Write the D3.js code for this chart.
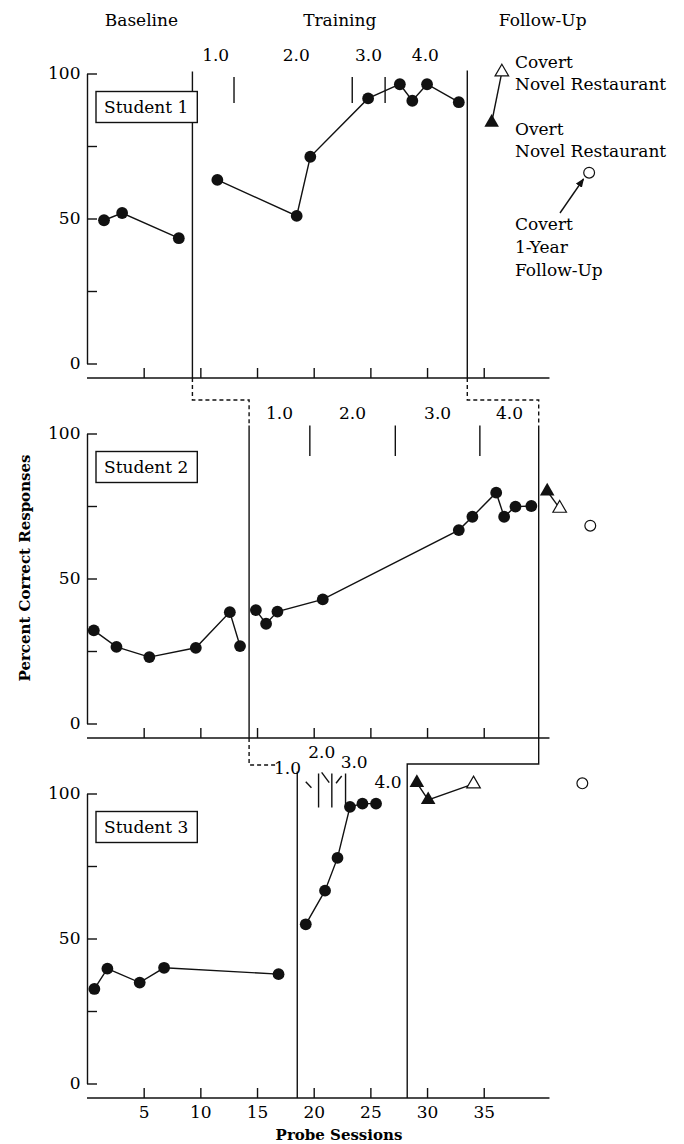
<!DOCTYPE html>
<html><head><meta charset="utf-8">
<script src="https://cdn.jsdelivr.net/npm/d3@7"></script>
<style>
body{margin:0;background:#fff}
svg text{font-family:"DejaVu Serif",serif;fill:#000}
</style></head>
<body><svg id="c" width="684" height="1144"></svg>
<script>
// Probe-session results (percent correct) for each student
const s1Sessions = [1.5, 3.1, 8.1, 11.5, 18.5, 19.7, 24.8, 27.6, 28.7, 30.0, 32.8];
const s1Percent  = [49.4, 51.9, 43.2, 63.3, 50.9, 71.3, 91.4, 96.3, 90.6, 96.3, 90.1];
const s2Sessions = [0.6, 2.6, 5.5, 9.6, 12.6, 13.5, 14.9, 15.8, 16.8, 20.8, 32.8, 34.0, 36.1, 36.8, 37.8, 39.2];
const s2Percent  = [32.1, 26.4, 22.9, 26.1, 38.4, 26.7, 39.1, 34.4, 38.6, 42.8, 66.7, 71.3, 79.6, 71.3, 74.8, 75.0];
const s3Sessions = [0.65, 1.8, 4.65, 6.8, 16.9, 19.3, 21.0, 22.1, 23.2, 24.3, 25.5];
const s3Percent  = [32.6, 39.6, 34.8, 39.9, 37.7, 54.9, 66.5, 77.8, 95.4, 96.5, 96.5];

// Follow-up probes
const overtSessions  = [[35.7], [40.6], [29.1, 30.1]];
const overtPercent   = [[83.1], [80.1], [103.7, 97.8]];
const covertSessions = [[36.6], [41.7], [34.1]];
const covertPercent  = [[100.5], [74.2], [103.3]];
const yearSessions   = [44.3, 44.4, 43.7];
const yearPercent    = [65.8, 68.2, 103.5];

// Phase changes (baseline -> training, training -> follow-up) and criterion steps
const phaseChanges   = [[9.3, 33.55], [14.3, 39.85], [18.55, 28.25]];
const criterionMarks = [[12.97, 23.4, 26.3], [19.66, 27.2, 34.66], [20.43, 21.6, 22.81]];
const criterionLabels = ["1.0", "2.0", "3.0", "4.0"];
const studentNames = ["Student 1", "Student 2", "Student 3"];
const phaseNames = ["Baseline", "Training", "Follow-Up"];
const xTicks = [5, 10, 15, 20, 25, 30, 35];
const yTicks = [0, 25, 50, 75, 100];
const yTickLabels = [0, 50, 100];

const sessions = [s1Sessions, s2Sessions, s3Sessions];
const percents = [s1Percent, s2Percent, s3Percent];

const INK = "#111";
const SW = 1.4;
const svg = d3.select("#c");
const x = d3.scaleLinear().domain([0, 40]).range([87, 87 + 40 * 11.335]);
const panelTop = i => 73.5 + 360 * i;
const ys = [0, 1, 2].map(i => d3.scaleLinear().domain([0, 100]).range([panelTop(i) + 290, panelTop(i)]));
const axisY = i => ys[i](0) + 14.5;

function seg(g, pts, dash) {
  g.append("path").attr("d", d3.line()(pts)).attr("fill", "none")
    .attr("stroke", INK).attr("stroke-width", SW)
    .attr("stroke-dasharray", dash ? "4,3" : null);
}

// Phase headings
const headX = [4.8, 22.3, 40.2];
phaseNames.forEach((t, k) => {
  svg.append("text").attr("x", x(headX[k])).attr("y", 20).attr("dy", "0.35em")
    .attr("text-anchor", "middle").attr("font-size", 17).text(t);
});

[0, 1, 2].forEach(i => {
  const y = ys[i];
  const g = svg.append("g");
  const data = sessions[i].map((s, j) => [s, percents[i][j]]);

  // y axis with inward ticks
  g.append("g").attr("transform", `translate(${x(0)},0)`)
    .call(d3.axisLeft(y).tickValues(yTicks).tickSize(-10).tickSizeOuter(0).tickPadding(6.5)
      .tickFormat(d => yTickLabels.includes(d) ? d : ""))
    .call(a => a.attr("font-family", null).attr("font-size", 17).attr("color", INK))
    .call(a => a.selectAll("path,line").attr("stroke-width", SW));

  // x axis, dropped below the zero line
  g.append("g").attr("transform", `translate(0,${axisY(i)})`)
    .call(d3.axisBottom(x).tickValues(xTicks).tickSize(-10).tickPadding(8)
      .tickFormat(d => i === 2 ? d : ""))
    .call(a => a.select(".domain").remove())
    .call(a => a.attr("font-family", null).attr("font-size", 17).attr("color", INK))
    .call(a => a.selectAll("line").attr("stroke-width", SW));
  seg(g, [[x(0), axisY(i)], [x(40.8), axisY(i)]]);

  // criterion step markers
  const mk = criterionMarks[i];
  const mTop = [y(100) + 3.5, y(100) - 8, y(100) - 20][i];
  const mBot = [y(100) + 29.5, y(100) + 22.5, y(100) + 14][i];
  mk.forEach(m => seg(g, [[x(m), mTop], [x(m), mBot]]));

  // data paths: baseline and training drawn separately
  const pc = phaseChanges[i][0];
  const base = data.filter(d => d[0] < pc), train = data.filter(d => d[0] >= pc);
  [base, train].forEach(part => {
    g.append("path").attr("d", d3.line().x(d => x(d[0])).y(d => y(d[1]))(part))
      .attr("fill", "none").attr("stroke", INK).attr("stroke-width", SW);
  });

  // follow-up connection
  const fu = overtSessions[i].map((s, j) => [s, overtPercent[i][j]])
    .concat(covertSessions[i].map((s, j) => [s, covertPercent[i][j]]))
    .sort((a, b) => a[0] - b[0]);
  g.append("path").attr("d", d3.line().x(d => x(d[0])).y(d => y(d[1]))(fu))
    .attr("fill", "none").attr("stroke", INK).attr("stroke-width", SW);

  g.selectAll(".dot").data(data).join("circle")
    .attr("cx", d => x(d[0])).attr("cy", d => y(d[1])).attr("r", 5.9).attr("fill", INK);

  const tri = d3.symbol().type(d3.symbolTriangle);
  overtSessions[i].forEach((s, j) => {
    g.append("path").attr("d", tri.size(92)()).attr("fill", INK)
      .attr("transform", `translate(${x(s)},${y(overtPercent[i][j])})`);
  });
  covertSessions[i].forEach((s, j) => {
    g.append("path").attr("d", tri.size(80)()).attr("fill", "#fff").attr("stroke", INK).attr("stroke-width", 1.2)
      .attr("transform", `translate(${x(s)},${y(covertPercent[i][j])})`);
  });
  g.append("circle").attr("cx", x(yearSessions[i])).attr("cy", y(yearPercent[i])).attr("r", 5.4)
    .attr("fill", "#fff").attr("stroke", INK).attr("stroke-width", 1.2);

  // student label box
  g.append("rect").attr("x", 96).attr("y", y(100) + 18).attr("width", 101.3).attr("height", 31)
    .attr("fill", "#fff").attr("stroke", INK).attr("stroke-width", SW);
  g.append("text").attr("x", 104).attr("y", y(100) + 33.5).attr("dy", "0.35em")
    .attr("font-size", 17).text(studentNames[i]);
});

// Phase change lines and the staircase that links the panels
const [p1, p2, p3] = phaseChanges;
const g0 = svg.append("g");
// Student 1
seg(g0, [[x(p1[0]), ys[0](100) - 2], [x(p1[0]), ys[0](100) + 17.5]]);
seg(g0, [[x(p1[0]), ys[0](100) + 49.5], [x(p1[0]), axisY(0)]]);
seg(g0, [[x(p1[0]), axisY(0)], [x(p1[0]), 400], [x(p2[0]), 400], [x(p2[0]), ys[1](100) - 8]], true);
seg(g0, [[x(p1[1]), ys[0](100) - 3], [x(p1[1]), axisY(0)]]);
seg(g0, [[x(p1[1]), axisY(0)], [x(p1[1]), 400], [x(p2[1]), 400], [x(p2[1]), ys[1](100) - 8]], true);
// Student 2
seg(g0, [[x(p2[0]), ys[1](100) - 8], [x(p2[0]), axisY(1)]]);
seg(g0, [[x(p2[0]), axisY(1)], [x(p2[0]), 765], [x(16.6), 765]], true);
seg(g0, [[x(p2[1]), ys[1](100) - 8], [x(p2[1]), 764], [x(p3[1]), 764], [x(p3[1]), axisY(2)]]);
// Student 3
seg(g0, [[x(p3[0]), ys[2](100) - 22], [x(p3[0]), axisY(2)]]);

// Criterion labels
const labelPos = [
  [[11.35, -18.5], [18.46, -18.5], [24.83, -18.5], [29.85, -18.5]],
  [[16.98, -20.5], [23.43, -20.5], [30.93, -20.5], [37.27, -20.5]],
  [[17.69, -25.5], [20.71, -41.8], [23.57, -31.8], [26.55, -11.8]]
];
labelPos.forEach((row, i) => row.forEach((p, k) => {
  svg.append("text").attr("x", x(p[0])).attr("y", ys[i](100) + p[1]).attr("dy", "0.35em")
    .attr("text-anchor", "middle").attr("font-size", 17).text(criterionLabels[k]);
}));
// leader ticks for the crowded Student 3 labels
const leaders = [[[19.3, -11.8], [19.8, -5.8]], [[20.7, -21.2], [21.37, -10.8]], [[22.47, -17.5], [21.97, -10.2]]];
leaders.forEach(l => seg(g0, l.map(p => [x(p[0]), ys[2](100) + p[1]])));

// Follow-up annotations
const notes = [["Covert", 62], ["Novel Restaurant", 84], ["Overt", 129], ["Novel Restaurant", 151],
               ["Covert", 224], ["1-Year", 247], ["Follow-Up", 270]];
notes.forEach(n => svg.append("text").attr("x", 515).attr("y", n[1]).attr("dy", "0.35em")
  .attr("font-size", 17).text(n[0]));
svg.append("defs").append("marker").attr("id", "ah").attr("viewBox", "0 0 10 10")
  .attr("refX", 9).attr("refY", 5).attr("markerWidth", 9).attr("markerHeight", 9)
  .attr("markerUnits", "userSpaceOnUse").attr("orient", "auto")
  .append("path").attr("d", "M0,1L10,5L0,9Z").attr("fill", INK);
svg.append("line").attr("x1", 560).attr("y1", 213).attr("x2", 583.5).attr("y2", 179)
  .attr("stroke", INK).attr("stroke-width", SW).attr("marker-end", "url(#ah)");

// Axis titles
svg.append("text").attr("transform", "translate(25,568) rotate(-90)").attr("dy", "0.35em")
  .attr("text-anchor", "middle").attr("font-size", 15).attr("font-weight", "bold")
  .text("Percent Correct Responses");
svg.append("text").attr("x", 339).attr("y", 1135).attr("dy", "0.35em")
  .attr("text-anchor", "middle").attr("font-size", 15).attr("font-weight", "bold")
  .text("Probe Sessions");
</script></body></html>
